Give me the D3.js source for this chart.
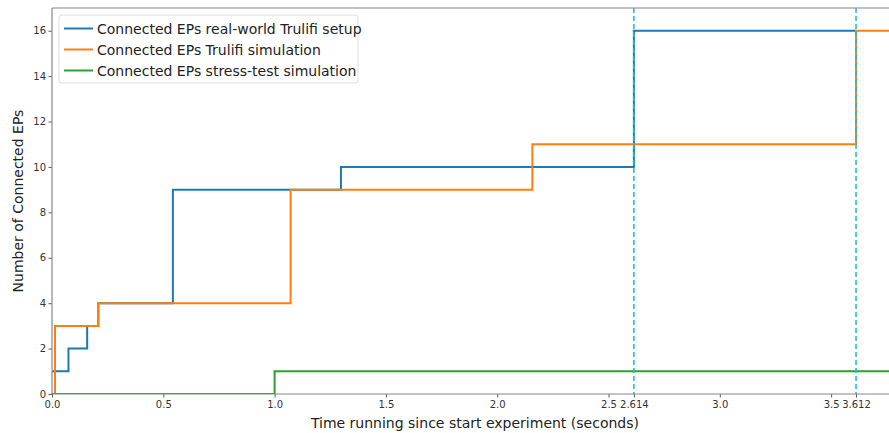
<!DOCTYPE html>
<html>
<head>
<meta charset="utf-8">
<script src="https://cdn.jsdelivr.net/npm/d3@7"></script>
<style>
  html, body { margin: 0; padding: 0; background: #fff; }
  svg { display: block; font-family: "DejaVu Sans", sans-serif; }
</style>
</head>
<body>
<svg id="chart" width="889" height="433"></svg>
<script>
// Step series: [time (s), connected EPs], drawn as step-after
const realWorldX = [0, 0.074, 0.158, 0.208, 0.543, 1.298, 2.614, 3.612];
const realWorldY = [1, 2, 3, 4, 9, 10, 16, 16];
const trulifiSimX = [0.013, 0.0135, 0.208, 1.072, 2.158, 3.612, 3.8];
const trulifiSimY = [0, 3, 4, 9, 11, 16, 16];
const stressTestX = [0, 1.0, 3.8];
const stressTestY = [0, 1, 1];

const seriesNames = [
  "Connected EPs real-world Trulifi setup",
  "Connected EPs Trulifi simulation",
  "Connected EPs stress-test simulation"
];
const seriesColors = ["#1f77b4", "#ff7f0e", "#2ca02c"];

// Marked connection moments
const markerTimes = [2.614, 3.612];
const xTickValues = [0, 0.5, 1.0, 1.5, 2.0, 2.5, 3.0, 3.5];
const yTickValues = [0, 2, 4, 6, 8, 10, 12, 14, 16];

const svg = d3.select("#chart");
const plotLeft = 52, plotTop = 8, plotBottom = 394;
const pxPerUnit = 222.6;
const xMax = 3.8;

const x = d3.scaleLinear().domain([0, xMax]).range([plotLeft, plotLeft + xMax * pxPerUnit]);
const y = d3.scaleLinear().domain([0, 17]).range([plotBottom, plotTop]);

svg.append("defs").append("clipPath").attr("id", "plotClip")
  .append("rect").attr("x", plotLeft).attr("y", plotTop)
  .attr("width", x(xMax) - plotLeft).attr("height", plotBottom - plotTop);

const plot = svg.append("g").attr("clip-path", "url(#plotClip)");

const line = d3.line().curve(d3.curveStepAfter)
  .x(d => x(d[0])).y(d => y(d[1]));

const series = [
  d3.zip(realWorldX, realWorldY),
  d3.zip(trulifiSimX, trulifiSimY),
  d3.zip(stressTestX, stressTestY)
];

series.forEach((pts, i) => {
  plot.append("path")
    .attr("d", line(pts))
    .attr("fill", "none")
    .attr("stroke", seriesColors[i])
    .attr("stroke-width", 2)
    .attr("stroke-linejoin", "miter");
});

// Dashed vertical markers
markerTimes.forEach(t => {
  plot.append("line")
    .attr("x1", x(t)).attr("x2", x(t))
    .attr("y1", plotTop).attr("y2", plotBottom)
    .attr("stroke", "#17becf")
    .attr("stroke-width", 1.5)
    .attr("stroke-dasharray", "5,3");
});

// Axes
const fmtX = d => (markerTimes.includes(d) ? String(d) : d3.format(".1f")(d));
const xAxis = d3.axisBottom(x)
  .tickValues(xTickValues.concat(markerTimes))
  .tickFormat(fmtX)
  .tickSize(3.5).tickSizeOuter(0);
const gx = svg.append("g").attr("transform", `translate(0,${plotBottom})`).call(xAxis);

const yAxis = d3.axisLeft(y).tickValues(yTickValues).tickFormat(d3.format("d"))
  .tickSize(3.5).tickSizeOuter(0);
const gy = svg.append("g").attr("transform", `translate(${plotLeft},0)`).call(yAxis);

[gx, gy].forEach(g => {
  g.select(".domain").remove();
  g.selectAll(".tick line").attr("stroke", "#333").attr("stroke-width", 0.8);
  g.selectAll(".tick text").attr("fill", "#333").style("font-size", "10px")
    .style("font-family", "DejaVu Sans, sans-serif");
});
gx.selectAll(".tick text").attr("dy", "0.9em").attr("y", 5);
gy.selectAll(".tick text").attr("x", -6);

// Spines (left, top, bottom)
const spineColor = "#888";
svg.append("line").attr("x1", plotLeft).attr("x2", plotLeft).attr("y1", plotTop).attr("y2", plotBottom)
  .attr("stroke", spineColor).attr("stroke-width", 1.2);
svg.append("line").attr("x1", plotLeft).attr("x2", x(xMax)).attr("y1", plotTop).attr("y2", plotTop)
  .attr("stroke", spineColor).attr("stroke-width", 1.2);
svg.append("line").attr("x1", plotLeft).attr("x2", x(xMax)).attr("y1", plotBottom).attr("y2", plotBottom)
  .attr("stroke", spineColor).attr("stroke-width", 1.2);

// Axis titles
svg.append("text")
  .attr("x", (plotLeft + x(xMax)) / 2).attr("y", 428)
  .attr("text-anchor", "middle")
  .style("font-size", "14px").attr("fill", "#222")
  .text("Time running since start experiment (seconds)");
svg.append("text")
  .attr("transform", `translate(23,${(plotTop + plotBottom) / 2}) rotate(-90)`)
  .attr("text-anchor", "middle")
  .style("font-size", "14px").attr("fill", "#222")
  .text("Number of Connected EPs");

// Legend
const legend = svg.append("g").attr("transform", "translate(59,15)");
legend.append("rect")
  .attr("width", 299).attr("height", 68).attr("rx", 3)
  .attr("fill", "#fff").attr("fill-opacity", 0.8)
  .attr("stroke", "#ddd").attr("stroke-width", 1);
seriesNames.forEach((name, i) => {
  const cy = 13.5 + i * 21;
  legend.append("line")
    .attr("x1", 5).attr("x2", 34).attr("y1", cy).attr("y2", cy)
    .attr("stroke", seriesColors[i]).attr("stroke-width", 2);
  legend.append("text")
    .attr("x", 38).attr("y", cy).attr("dy", "0.36em")
    .style("font-size", "14px").attr("fill", "#222")
    .text(name);
});
</script>
</body>
</html>
